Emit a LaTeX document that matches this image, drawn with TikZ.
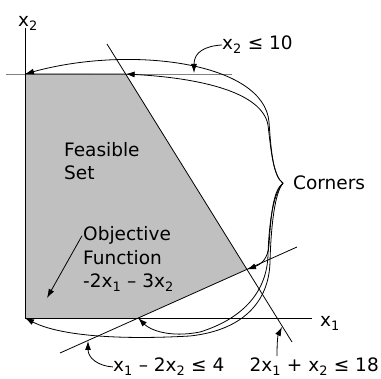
\documentclass[tikz,border=0pt]{standalone}
\usepackage{fontspec}
\setmainfont{DejaVu Sans}
\usetikzlibrary{arrows.meta,calc}
\definecolor{region}{HTML}{C0C0C0}
\definecolor{bound}{HTML}{808080}

\begin{document}
\begin{tikzpicture}[x=1pt,y=-1pt,
  every node/.style={font=\fontsize{18.5}{23.5}\selectfont,inner sep=0pt,align=left},
  ln/.style={line width=0.8pt},
  arr/.style={-{Latex[length=9pt,width=6pt]},line width=0.8pt}
]
\useasboundingbox (0,0) rectangle (381,379);
\coordinate (o) at (25,318);
\coordinate (ytop) at (25,28);
\coordinate (xend) at (312,318);
\coordinate (capL) at (6,74);
\coordinate (capR) at (232,74);
\coordinate (sA) at (107,44);
\coordinate (sB) at (292,342);
\coordinate (hA) at (60,353);
\coordinate (hB) at (297,247);
\coordinate (c1) at (25,74);
\coordinate (c2) at (intersection of capL--capR and sA--sB);
\coordinate (c3) at (intersection of sA--sB and hA--hB);
\coordinate (c4) at (intersection of hA--hB and o--xend);

\fill[region] (c1) -- (c2) -- (c3) -- (c4) -- (o) -- cycle;
\draw[ln,bound] (capL) -- (capR);
\draw[ln] (c1) -- (c2);
\draw[ln] (ytop) -- (o) -- (xend);
\draw[ln] (sA) -- (sB);
\draw[ln] (hA) -- (hB);

\node[anchor=base west] (xtwo) at (18,27) {x\textsubscript{2}};
\node[anchor=base west] (xone) at (320,327) {x\textsubscript{1}};
\node[anchor=base west] (feas) at (64,180) {Feasible\\Set};
\node[anchor=base west] (obj) at (83,288) {Objective\\Function\\-2x\textsubscript{1} – 3x\textsubscript{2}};
\node[anchor=base west] (cap) at (222,50) {x\textsubscript{2} ≤ 10};
\node[anchor=base west] (corn) at (293,190) {Corners};
\node[anchor=base west] (cB) at (113,372) {x\textsubscript{1} – 2x\textsubscript{2} ≤ 4};
\node[anchor=base east] (cS) at (379,372) {2x\textsubscript{1} + x\textsubscript{2} ≤ 18};

\coordinate (objtip) at (47,298);
\coordinate (captip) at (194,73);
\coordinate (cBtip) at (88,341);
\coordinate (cStip) at (282,327);
\coordinate (brace) at ([xshift=-10]corn.west);

\draw[arr] ([shift={(-1,9)}]obj.north west) -- (objtip);
\draw[arr] (cap.west) .. controls (205,46) and (194,52) .. (captip);
\draw[arr] (cB.west) .. controls (98,366) and (88,358) .. (cBtip);
\draw[arr] ($(cS.north -| cStip)+(-5,-2)$) .. controls (277,340) and (278,335) .. (cStip);

\draw[arr] (brace) .. controls (273,176) and (271,150) .. (269,122)
  .. controls (264,62) and (130,45) .. (c1);
\draw[arr] (brace) .. controls (273,176) and (271,150) .. (268,125)
  .. controls (262,92) and (200,78) .. (c2);
\draw[arr] (brace) .. controls (273,190) and (271,215) .. (269,245)
  .. controls (268,258) and (262,264) .. (c3);
\draw[arr] (brace) .. controls (274,192) and (269,220) .. (268,255)
  .. controls (267,290) and (245,318) .. (200,332)
  .. controls (170,338) and (150,330) .. (c4);
\draw[arr] (brace) .. controls (275,192) and (271,225) .. (270,262)
  .. controls (269,300) and (245,330) .. (190,336)
  .. controls (120,340) and (60,336) .. (o);
\end{tikzpicture}
\end{document}
